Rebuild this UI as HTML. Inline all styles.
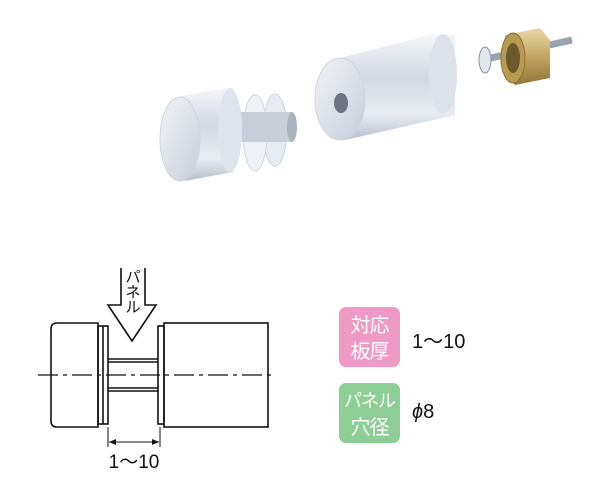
<!DOCTYPE html>
<html><head><meta charset="utf-8"><style>
body{margin:0;background:#fff;width:600px;height:498px;overflow:hidden;position:relative;font-family:"Liberation Sans","Noto Sans CJK JP",sans-serif}
.b{position:absolute;left:339px;width:61px;height:60px;border-radius:7px;color:#fff;font-size:20px;line-height:26px;text-align:center;padding-top:4px;box-sizing:border-box;font-family:"Noto Sans CJK JP",sans-serif;white-space:nowrap;letter-spacing:-1px}
.t{position:absolute;left:412px;font-size:20px;color:#111}
</style></head><body>
<svg width="600" height="498" style="position:absolute;left:0;top:0">
<defs>
<linearGradient id="m" x1="0" y1="0" x2="0" y2="1"><stop offset="0" stop-color="#f4f6fa"/><stop offset=".4" stop-color="#d2d8e2"/><stop offset=".75" stop-color="#e8ecf2"/><stop offset="1" stop-color="#b9c0cc"/></linearGradient>
<linearGradient id="f" x1="0" y1="0" x2="1" y2="1"><stop offset="0" stop-color="#f2f4f8"/><stop offset="1" stop-color="#c6ccd8"/></linearGradient>
<linearGradient id="br" x1="0" y1="0" x2="0" y2="1"><stop offset="0" stop-color="#e8d9a8"/><stop offset=".5" stop-color="#c2a560"/><stop offset="1" stop-color="#8f7638"/></linearGradient>
</defs>
<ellipse cx="275" cy="130" rx="12" ry="36" fill="#e6ebf2" stroke="#d0d6e0"/>
<ellipse cx="255" cy="133" rx="12" ry="38" fill="#eef1f6" stroke="#d0d6e0"/>
<rect x="240" y="112" width="52" height="30" fill="#c8ced8"/>
<ellipse cx="292" cy="127" rx="5" ry="15" fill="#aab2be"/>
<path d="M178 97 L225 88 L233 88 L233 172 L185 181 Z" fill="url(#m)"/>
<ellipse cx="230" cy="130" rx="12" ry="42" fill="#dfe4ec"/>
<ellipse cx="180" cy="139" rx="20" ry="42" fill="url(#f)" stroke="#cfd5df"/>
<path d="M340 58 L430 35 L455 35 L455 115 L345 140 Z" fill="url(#m)"/>
<ellipse cx="443" cy="74" rx="14" ry="40" fill="#dde2ea"/>
<ellipse cx="340" cy="99" rx="25" ry="41" fill="url(#f)" stroke="#cfd5df"/>
<ellipse cx="341" cy="103" rx="7" ry="10" fill="#6d7480"/>
<line x1="482" y1="60" x2="572" y2="40" stroke="#9aa4b0" stroke-width="7"/>
<ellipse cx="485" cy="60" rx="6" ry="13" fill="#e2e6ec" stroke="#8890a0"/>
<path d="M505 35 L540 28 L550 40 L550 78 L515 85 L505 75 Z" fill="url(#br)"/>
<ellipse cx="513" cy="58" rx="12" ry="25" fill="#b89a50" stroke="#8a7035"/>
<ellipse cx="513" cy="58" rx="7" ry="15" fill="#6d5a2a"/>
<g fill="none" stroke="#111" stroke-width="1.6">
<path d="M98 323 H57 Q51 323 51 329 V421 Q51 427 57 427 H98 Z"/>
<rect x="98" y="326" width="10" height="98"/>
<line x1="103" y1="326" x2="103" y2="424"/>
<rect x="158" y="326" width="6" height="98"/>
<rect x="164" y="323" width="104" height="104"/>
<line x1="108" y1="359" x2="158" y2="359"/><line x1="108" y1="362" x2="158" y2="362"/>
<line x1="108" y1="388" x2="158" y2="388"/><line x1="108" y1="391" x2="158" y2="391"/>
<path d="M121 268 V305 H108 L132 341 L156 305 H145 V268"/>
</g>
<line x1="38" y1="375" x2="276" y2="375" stroke="#111" stroke-width="1.2" stroke-dasharray="20 5 4 5"/>
<g stroke="#111" stroke-width="1"><line x1="108" y1="427" x2="108" y2="447"/><line x1="160" y1="427" x2="160" y2="447"/><line x1="109" y1="442" x2="159" y2="442"/></g>
<path d="M109 442 l7 -3 v6z M159 442 l-7 -3 v6z" fill="#111"/>
<text x="134" y="468" font-size="19" text-anchor="middle" font-family="Liberation Sans,Noto Sans CJK JP,sans-serif" fill="#111">1〜10</text>
<text x="133" y="282" font-size="15" text-anchor="middle" font-family="Noto Sans CJK JP,sans-serif" fill="#111">パ</text>
<text x="133" y="297" font-size="15" text-anchor="middle" font-family="Noto Sans CJK JP,sans-serif" fill="#111">ネ</text>
<text x="133" y="312" font-size="15" text-anchor="middle" font-family="Noto Sans CJK JP,sans-serif" fill="#111">ル</text>
</svg>
<div class="b" style="top:307px;background:#ee9ac4">対応<br>板厚</div>
<div class="t" style="top:325px">1〜10</div>
<div class="b" style="top:383px;background:#8dcd96;font-size:18px">パネル<br><span style="font-size:20px">穴径</span></div>
<div class="t" style="top:401px"><i>ϕ</i>8</div>
</body></html>
